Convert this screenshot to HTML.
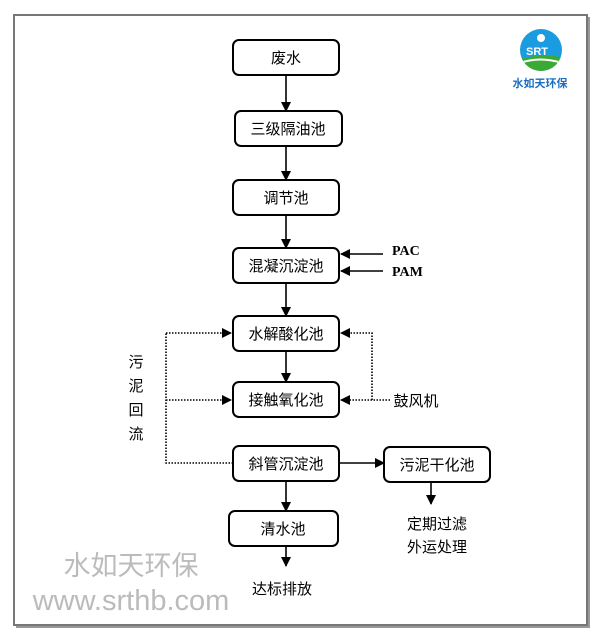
<!DOCTYPE html>
<html><head><meta charset="utf-8"><style>
html,body{margin:0;padding:0;background:#fff;}
svg{display:block;}
text{font-family:"Liberation Sans","Noto Sans CJK SC",sans-serif;}
</style></head><body>
<svg width="600" height="642" viewBox="0 0 600 642" xmlns="http://www.w3.org/2000/svg">
<defs>
<marker id="a" markerWidth="10" markerHeight="10" refX="9" refY="5" orient="auto" markerUnits="userSpaceOnUse"><path d="M0,0 L10,5 L0,10 z" fill="#000"/></marker>
<clipPath id="cc"><circle cx="541" cy="50" r="21"/></clipPath>
</defs>
<rect x="0" y="0" width="600" height="642" fill="#fff"/>
<rect x="16" y="17" width="574" height="611" fill="#999"/>
<rect x="14" y="15" width="573" height="610" fill="#fff" stroke="#777" stroke-width="2"/>
<g fill="#fff" stroke="#000" stroke-width="2">
<rect x="233" y="40" width="106" height="35" rx="6"/>
<rect x="235" y="111" width="107" height="35" rx="6"/>
<rect x="233" y="180" width="106" height="35" rx="6"/>
<rect x="233" y="248" width="106" height="35" rx="6"/>
<rect x="233" y="316" width="106" height="35" rx="6"/>
<rect x="233" y="382" width="106" height="35" rx="6"/>
<rect x="233" y="446" width="106" height="35" rx="6"/>
<rect x="229" y="511" width="109" height="35" rx="6"/>
<rect x="384" y="447" width="106" height="35" rx="6"/>
</g>
<g font-size="15" text-anchor="middle" fill="#000">
<text x="286" y="63">废水</text>
<text x="288" y="134">三级隔油池</text>
<text x="286" y="203">调节池</text>
<text x="286" y="271">混凝沉淀池</text>
<text x="286" y="339">水解酸化池</text>
<text x="286" y="405">接触氧化池</text>
<text x="286" y="469">斜管沉淀池</text>
<text x="283" y="534">清水池</text>
<text x="437" y="470">污泥干化池</text>
<text x="437" y="529">定期过滤</text>
<text x="437" y="552">外运处理</text>
<text x="282" y="594">达标排放</text>
<text x="416" y="406">鼓风机</text>
</g>
<g font-size="15" fill="#000" text-anchor="middle">
<text x="136" y="367">污</text><text x="136" y="391">泥</text><text x="136" y="415">回</text><text x="136" y="439">流</text>
</g>
<g font-weight="bold" font-size="14" fill="#000">
<text x="392" y="255" style="font-family:'Liberation Serif',serif">PAC</text>
<text x="392" y="276" style="font-family:'Liberation Serif',serif">PAM</text>
</g>
<g stroke="#000" stroke-width="1.6" fill="none" marker-end="url(#a)">
<line x1="286" y1="75" x2="286" y2="111"/>
<line x1="286" y1="146" x2="286" y2="180"/>
<line x1="286" y1="215" x2="286" y2="248"/>
<line x1="286" y1="283" x2="286" y2="316"/>
<line x1="286" y1="351" x2="286" y2="382"/>
<line x1="286" y1="481" x2="286" y2="511"/>
<line x1="286" y1="546" x2="286" y2="566"/>
<line x1="339" y1="463" x2="384" y2="463"/>
<line x1="431" y1="482" x2="431" y2="504"/>
<line x1="383" y1="254" x2="341" y2="254"/>
<line x1="383" y1="271" x2="341" y2="271"/>
</g>
<g stroke="#000" stroke-width="1.6" fill="none" stroke-dasharray="1.5,1.5">
<polyline points="233,463 166,463 166,333"/>
<polyline points="166,333 231,333" marker-end="url(#a)"/>
<polyline points="166,400 231,400" marker-end="url(#a)"/>
<polyline points="372,400 372,333 341,333" marker-end="url(#a)"/>
<polyline points="390,400 341,400" marker-end="url(#a)"/>
</g>
<g>
<circle cx="541" cy="50" r="21" fill="#1b9be0"/>
<path d="M518,60 Q540,52 564,58 L564,74 L518,74 z" fill="#3aaa35" clip-path="url(#cc)"/>
<path d="M520,63 Q540,56 562,63" stroke="#fff" stroke-width="2" fill="none" clip-path="url(#cc)"/>
<circle cx="541" cy="38" r="4" fill="#fff"/>
<text x="537" y="55" font-size="11" font-weight="bold" fill="#fff" text-anchor="middle">SRT</text>
<text x="540" y="87" font-size="11" font-weight="bold" fill="#1a6fc0" text-anchor="middle">水如天环保</text>
</g>
<text x="131" y="575" font-size="27" fill="#bbb" text-anchor="middle">水如天环保</text>
<text x="131" y="610" font-size="29" fill="#bbb" text-anchor="middle">www.srthb.com</text>
</svg>
</body></html>
